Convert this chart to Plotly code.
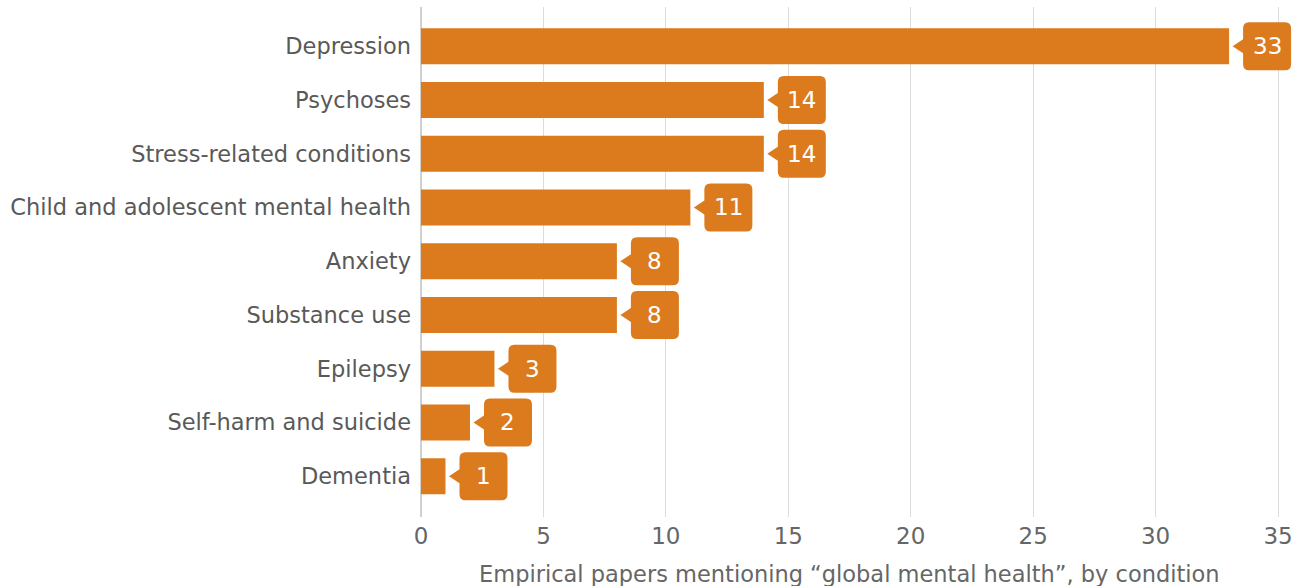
import plotly.graph_objects as go

# Papers mentioning "global mental health", counted by condition
conditions = [
    "Depression",
    "Psychoses",
    "Stress-related conditions",
    "Child and adolescent mental health",
    "Anxiety",
    "Substance use",
    "Epilepsy",
    "Self-harm and suicide",
    "Dementia",
]
paper_counts = [33, 14, 14, 11, 8, 8, 3, 2, 1]
x_ticks = [0, 5, 10, 15, 20, 25, 30, 35]
x_title = "Empirical papers mentioning “global mental health”, by condition"

ORANGE = "#DC7B1E"
FONT = "DejaVu Sans, Verdana, sans-serif"
GREY_TEXT = "#666666"

positions = list(range(len(conditions)))

fig = go.Figure(
    go.Bar(
        x=paper_counts,
        y=positions,
        orientation="h",
        width=0.67,
        marker=dict(color=ORANGE, line=dict(width=0)),
        hoverinfo="skip",
    )
)

# Speech-bubble value callouts: rounded box with a small pointer, sized in pixels
bubble_path = (
    "M 3.5 0 L 14 -7 L 14 -18 Q 14 -24 20 -24 L 56 -24 Q 62 -24 62 -18 "
    "L 62 18 Q 62 24 56 24 L 20 24 Q 14 24 14 18 L 14 7 Z"
)
for pos, count in zip(positions, paper_counts):
    fig.add_shape(
        type="path",
        xref="x",
        yref="y",
        xsizemode="pixel",
        ysizemode="pixel",
        xanchor=count,
        yanchor=pos,
        path=bubble_path,
        fillcolor=ORANGE,
        line=dict(width=0),
        layer="above",
    )
    fig.add_annotation(
        x=count,
        y=pos,
        xref="x",
        yref="y",
        xshift=38,
        text=str(count),
        showarrow=False,
        font=dict(family=FONT, size=23, color="white"),
    )

# Axis title centred under the 0–35 scale
fig.add_annotation(
    x=(x_ticks[0] + x_ticks[-1]) / 2,
    y=0,
    xref="x",
    yref="paper",
    yshift=-57,
    yanchor="middle",
    text=x_title,
    showarrow=False,
    font=dict(family=FONT, size=22.5, color=GREY_TEXT),
)

fig.update_layout(
    width=1305,
    height=586,
    margin=dict(l=421, r=0, t=7, b=69),
    paper_bgcolor="white",
    plot_bgcolor="white",
    showlegend=False,
    font=dict(family=FONT, size=22, color=GREY_TEXT),
    xaxis=dict(
        # the scale ends at 35; the extra room keeps the top callout inside the plot
        range=[0, 36.1],
        tickvals=x_ticks,
        showgrid=True,
        gridcolor="#DCDCDC",
        gridwidth=1,
        zeroline=True,
        zerolinecolor="#D0D0D0",
        zerolinewidth=2,
        showline=False,
        ticks="",
        ticklabelstandoff=3,
        tickfont=dict(family=FONT, size=23, color=GREY_TEXT),
        fixedrange=True,
    ),
    yaxis=dict(
        range=[8.76, -0.73],
        tickvals=positions,
        ticktext=conditions,
        showgrid=False,
        zeroline=False,
        showline=False,
        ticks="",
        ticklabelstandoff=9,
        tickfont=dict(family=FONT, size=22.5, color="#595959"),
        fixedrange=True,
    ),
)

fig.write_html("out.html")
